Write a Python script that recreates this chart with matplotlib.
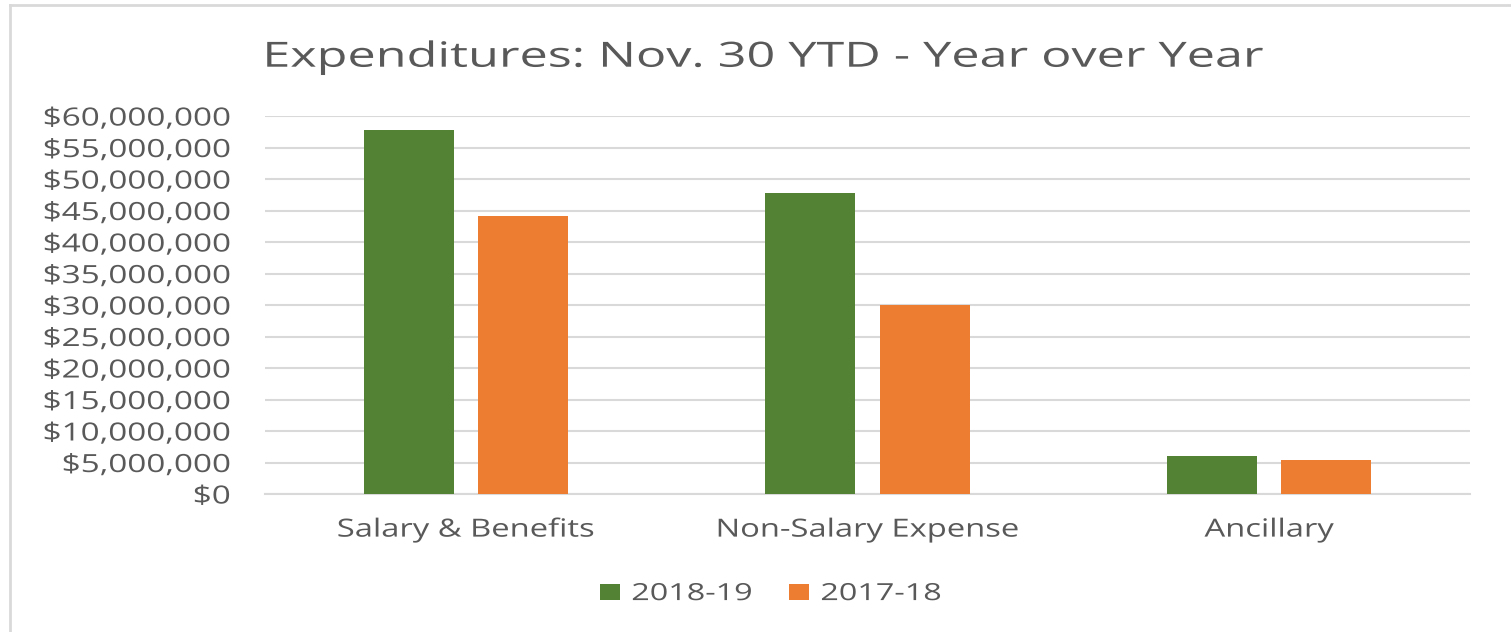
# Expenditures year over year bar chart.
import matplotlib.pyplot as plt
import numpy as np
from matplotlib.ticker import FuncFormatter, MultipleLocator
from matplotlib.patheffects import AbstractPathEffect
from matplotlib.transforms import Affine2D

categories = ["Salary & Benefits", "Non-Salary Expense", "Ancillary"]
fy_2018_19 = [57.8e6, 47.8e6, 6.0e6]
fy_2017_18 = [44.1e6, 30.0e6, 5.4e6]
series_names = ["2018-19", "2017-18"]

green = "#548235"
orange = "#ED7D31"
text_grey = "#595959"
grid_grey = "#D9D9D9"


# The reference text is wider than any installed font, so stretch glyphs sideways.
class Stretch(AbstractPathEffect):
    def __init__(self, sx, anchor="center"):
        super().__init__()
        self.sx = sx
        self.anchor = anchor

    def draw_path(self, renderer, gc, tpath, affine, rgbFace=None):
        ext = tpath.get_extents()
        if self.anchor == "center":
            cx = (ext.x0 + ext.x1) / 2
        elif self.anchor == "right":
            cx = ext.x1
        else:
            cx = ext.x0
        t = Affine2D().translate(-cx, 0).scale(self.sx, 1).translate(cx, 0) + affine
        renderer.draw_path(gc, tpath, t, rgbFace)


plt.rcParams["font.family"] = ["Open Sans", "DejaVu Sans"]

fig = plt.figure(figsize=(15.11, 6.32), dpi=100)
ax = fig.add_axes([265 / 1511, 138 / 632, 1205 / 1511, 378 / 632])

x = np.arange(len(categories))
w = 0.224
ax.bar(x - 0.142, fy_2018_19, width=w, color=green, label=series_names[0], zorder=3)
ax.bar(x + 0.142, fy_2017_18, width=w, color=orange, label=series_names[1], zorder=3)

ax.set_xlim(-0.5, 2.5)
ax.set_ylim(0, 60e6)
ax.yaxis.set_major_locator(MultipleLocator(5e6))
ax.yaxis.set_major_formatter(FuncFormatter(lambda v, p: "${:,.0f}".format(v)))
ax.grid(axis="y", color=grid_grey, linewidth=1.5, zorder=0)
ax.set_xticks(x)
ax.set_xticklabels(categories)
ax.tick_params(axis="both", length=0, labelsize=18, colors=text_grey)
ax.tick_params(axis="x", pad=17)
ax.tick_params(axis="y", pad=25)
for s in ["top", "right", "left"]:
    ax.spines[s].set_visible(False)
ax.spines["bottom"].set_color(grid_grey)
ax.spines["bottom"].set_linewidth(1.5)

for lab in ax.get_xticklabels():
    lab.set_path_effects([Stretch(1.31, "center")])
for lab in ax.get_yticklabels():
    lab.set_path_effects([Stretch(1.33, "right")])

fig.text(0.5053, 1 - 66.7 / 632, "Expenditures: Nov. 30 YTD - Year over Year",
         ha="center", va="baseline", fontsize=25, color=text_grey,
         path_effects=[Stretch(1.45, "center")])

leg = fig.legend(loc="center", bbox_to_anchor=(0.4995, 0.060), ncol=2, frameon=False,
                 fontsize=17, handlelength=0.85, handleheight=0.64, handletextpad=0.5,
                 columnspacing=2.9)
for t in leg.get_texts():
    t.set_color(text_grey)
    t.set_path_effects([Stretch(1.37, "left")])

# chart frame
fig.add_artist(plt.Line2D([10 / 1511, 10 / 1511], [0, 1 - 5 / 632], color=grid_grey, lw=2))
fig.add_artist(plt.Line2D([10 / 1511, 1], [1 - 5 / 632, 1 - 5 / 632], color=grid_grey, lw=2))

fig.savefig("out.png", dpi=100)
